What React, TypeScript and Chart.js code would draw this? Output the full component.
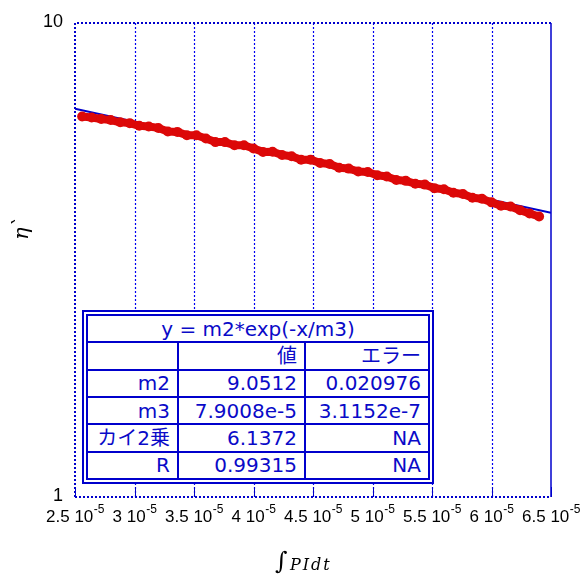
import React, { useEffect, useRef } from 'react';
import { Chart, registerables } from 'chart.js';

Chart.register(...registerables);

// measured data (red)
const dataX = [
  2.56e-5, 2.64e-5, 2.72e-5, 2.80e-5, 2.88e-5, 2.96e-5, 3.04e-5, 3.12e-5, 3.20e-5, 3.28e-5,
  3.36e-5, 3.44e-5, 3.52e-5, 3.60e-5, 3.68e-5, 3.76e-5, 3.84e-5, 3.92e-5, 4.00e-5, 4.08e-5,
  4.16e-5, 4.24e-5, 4.32e-5, 4.40e-5, 4.48e-5, 4.56e-5, 4.64e-5, 4.72e-5, 4.80e-5, 4.88e-5,
  4.96e-5, 5.04e-5, 5.12e-5, 5.20e-5, 5.28e-5, 5.36e-5, 5.44e-5, 5.52e-5, 5.60e-5, 5.68e-5,
  5.76e-5, 5.84e-5, 5.92e-5, 6.00e-5, 6.08e-5, 6.16e-5, 6.24e-5, 6.32e-5, 6.40e-5,
];
const dataY = [
  6.350, 6.318, 6.274, 6.242, 6.173, 6.148, 6.068, 6.049, 6.007, 5.904,
  5.892, 5.797, 5.797, 5.705, 5.607, 5.607, 5.522, 5.522, 5.434, 5.347,
  5.351, 5.266, 5.234, 5.145, 5.149, 5.067, 5.041, 4.950, 4.930, 4.860,
  4.850, 4.773, 4.743, 4.664, 4.645, 4.579, 4.561, 4.483, 4.459, 4.384,
  4.357, 4.279, 4.258, 4.184, 4.118, 4.101, 4.027, 3.965, 3.905,
];

// fitted curve (blue) – straight on log axis
const fitX = [2.5e-5, 6.5e-5];
const fitY = [6.597, 3.976];

// axis ticks
const xTickValues = [2.5e-5, 3e-5, 3.5e-5, 4e-5, 4.5e-5, 5e-5, 5.5e-5, 6e-5, 6.5e-5];
const xTickLabels = ['2.5', '3', '3.5', '4', '4.5', '5', '5.5', '6', '6.5'];
const xTickExp = '-5';
const yTickValues = [1, 10];
const yTickLabels = ['1', '10'];
const xTitleIntegral = '∫';
const xTitleBody = 'PIdt';
const yTitle = 'η`';

// fit table
const tableTitle = 'y = m2*exp(-x/m3)';
const tableHeader = ['', '値', 'エラー'];
const paramNames = ['m2', 'm3', 'カイ2乗', 'R'];
const paramValues = ['9.0512', '7.9008e-5', '6.1372', '0.99315'];
const paramErrors = ['0.020976', '3.1152e-7', 'NA', 'NA'];

const BLUE = '#0000cc';
const RED = '#dc0808';

export default function App() {
  const ref = useRef<HTMLCanvasElement>(null);

  useEffect(() => {
    const decor = {
      id: 'decor',
      beforeDatasetsDraw(chart: any) {
        const { ctx, chartArea: a, scales } = chart;
        const xs = scales.x;
        ctx.save();
        // vertical dotted grid
        ctx.strokeStyle = '#0000f0';
        ctx.lineWidth = 1.2;
        ctx.setLineDash([2, 2]);
        xTickValues.forEach((v) => {
          const px = Math.round(xs.getPixelForValue(v)) + 0.5;
          if (px < a.left + 2 || px > a.right - 2) return;
          ctx.beginPath();
          ctx.moveTo(px, a.top);
          ctx.lineTo(px, a.bottom);
          ctx.stroke();
        });
        // frame: dotted top/left/bottom, solid right
        ctx.strokeStyle = BLUE;
        ctx.lineWidth = 2;
        ctx.beginPath();
        ctx.moveTo(a.left, a.bottom);
        ctx.lineTo(a.left, a.top);
        ctx.lineTo(a.right, a.top);
        ctx.moveTo(a.left, a.bottom);
        ctx.lineTo(a.right, a.bottom);
        ctx.stroke();
        ctx.setLineDash([]);
        ctx.lineWidth = 1.5;
        ctx.beginPath();
        ctx.moveTo(a.right, a.top);
        ctx.lineTo(a.right, a.bottom);
        ctx.stroke();
        // inward ticks at bottom
        ctx.lineWidth = 1;
        xTickValues.forEach((v) => {
          const px = Math.round(xs.getPixelForValue(v)) + 0.5;
          ctx.beginPath();
          ctx.moveTo(px, a.bottom);
          ctx.lineTo(px, a.bottom - 10);
          ctx.stroke();
        });
        ctx.restore();
      },
      afterDraw(chart: any) {
        const { ctx, scales } = chart;
        const xs = scales.x;
        const ys = scales.y;
        ctx.save();
        ctx.fillStyle = '#000';
        // y tick labels
        ctx.font = '18px "Liberation Sans", Arial, sans-serif';
        ctx.textAlign = 'right';
        ctx.textBaseline = 'middle';
        yTickValues.forEach((v, i) => {
          ctx.fillText(yTickLabels[i], 63, ys.getPixelForValue(v) - 1);
        });
        // x tick labels with superscript exponent
        ctx.textAlign = 'left';
        ctx.textBaseline = 'alphabetic';
        xTickValues.forEach((v, i) => {
          const main = xTickLabels[i] + ' 10';
          ctx.font = '17px "Liberation Sans", Arial, sans-serif';
          const wm = ctx.measureText(main).width;
          ctx.font = '12px "Liberation Sans", Arial, sans-serif';
          const ws = ctx.measureText(xTickExp).width;
          const px = xs.getPixelForValue(v);
          const start = px - (wm + ws) / 2;
          ctx.font = '17px "Liberation Sans", Arial, sans-serif';
          ctx.fillText(main, start, 522);
          ctx.font = '12px "Liberation Sans", Arial, sans-serif';
          ctx.fillText(xTickExp, start + wm + 0.5, 513);
        });
        // x title
        ctx.font = '24px "DejaVu Serif", serif';
        ctx.fillText(xTitleIntegral, 275, 569);
        ctx.font = 'italic 16px "DejaVu Serif", serif';
        (ctx as any).letterSpacing = '2px';
        ctx.fillText(xTitleBody, 290, 570);
        (ctx as any).letterSpacing = '0px';
        // y title (rotated)
        ctx.translate(28, 240);
        ctx.rotate(-Math.PI / 2);
        ctx.font = 'italic 21px "DejaVu Serif", serif';
        ctx.textAlign = 'left';
        ctx.fillText(yTitle, 0, 0);
        ctx.restore();
      },
    };

    const chart = new Chart(ref.current as HTMLCanvasElement, {
      type: 'scatter',
      data: {
        datasets: [
          {
            data: dataX.map((x, i) => ({ x, y: dataY[i] })),
            showLine: true,
            borderColor: RED,
            backgroundColor: RED,
            borderWidth: 8,
            borderJoinStyle: 'round',
            borderCapStyle: 'round',
            pointRadius: 5,
            pointBorderWidth: 0,
          },
          {
            data: fitX.map((x, i) => ({ x, y: fitY[i] })),
            showLine: true,
            borderColor: BLUE,
            borderWidth: 2,
            pointRadius: 0,
          },
        ],
      },
      options: {
        responsive: false,
        animation: false,
        devicePixelRatio: 1,
        layout: { padding: { left: 75, right: 34, top: 23, bottom: 77 } },
        plugins: { legend: { display: false }, tooltip: { enabled: false } },
        scales: {
          x: { type: 'linear', min: 2.5e-5, max: 6.5e-5, display: false },
          y: { type: 'logarithmic', min: 1, max: 10, display: false },
        },
      },
      plugins: [decor],
    });
    return () => chart.destroy();
  }, []);

  const cell: React.CSSProperties = {
    border: `2px solid ${BLUE}`,
    padding: '0 7px 0 0',
    textAlign: 'right',
    lineHeight: 1,
    whiteSpace: 'nowrap',
    overflow: 'hidden',
  };

  return (
    <div style={{ position: 'absolute', left: 0, top: 0, width: 585, height: 574, background: '#fff' }}>
      <canvas ref={ref} width={585} height={574} style={{ display: 'block', width: 585, height: 574 }} />
      <div
        style={{
          position: 'absolute',
          left: 82,
          top: 310,
          width: 352,
          height: 174,
          boxSizing: 'border-box',
          border: `6px double ${BLUE}`,
          background: '#fff',
        }}
      >
        <table
          style={{
            borderCollapse: 'collapse',
            borderStyle: 'hidden',
            width: '100%',
            height: '100%',
            tableLayout: 'fixed',
            fontFamily: '"DejaVu Sans", "Noto Sans CJK JP", sans-serif',
            fontSize: 20,
            color: '#0a0ac8',
          }}
        >
          <colgroup>
            <col style={{ width: 90 }} />
            <col style={{ width: 127 }} />
            <col />
          </colgroup>
          <tbody>
            <tr>
              <td colSpan={3} style={{ ...cell, textAlign: 'center', padding: 0 }}>{tableTitle}</td>
            </tr>
            <tr>
              {tableHeader.map((h, i) => (
                <td key={i} style={cell}>{h}</td>
              ))}
            </tr>
            {paramNames.map((n, i) => (
              <tr key={n}>
                <td style={cell}>{n}</td>
                <td style={cell}>{paramValues[i]}</td>
                <td style={cell}>{paramErrors[i]}</td>
              </tr>
            ))}
          </tbody>
        </table>
      </div>
    </div>
  );
}
